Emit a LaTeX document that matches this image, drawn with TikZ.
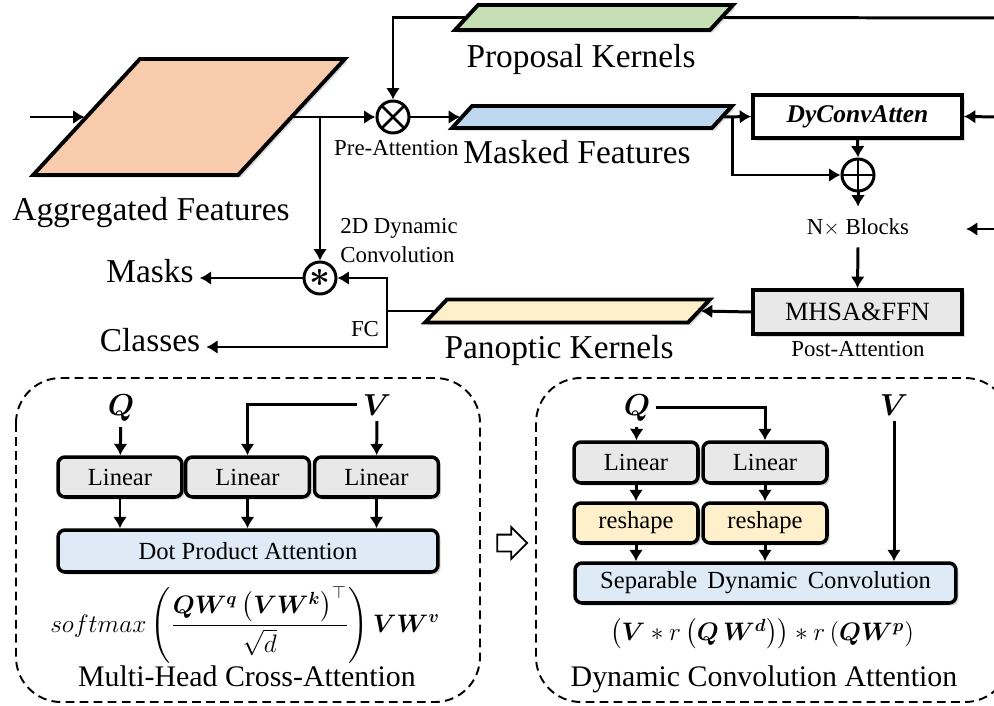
\documentclass[tikz,border=0pt]{standalone}
\usepackage{fontspec}
\setmainfont{Liberation Serif}
\usepackage{amsmath}
\usepackage{bm}
\usepackage{tikz}
\usetikzlibrary{arrows.meta,shapes,shapes.arrows,shadows}
\usetikzlibrary{positioning}

\definecolor{aggorange}{HTML}{F8CBAD}
\definecolor{propgreen}{HTML}{C5E0B4}
\definecolor{maskblue}{HTML}{BDD7EE}
\definecolor{panyellow}{HTML}{FFF0CC}
\definecolor{lingray}{HTML}{E8E8E8}
\definecolor{attblue}{HTML}{DEEBF7}

\tikzstyle{shd}=[drop shadow={shadow xshift=1.5pt,shadow yshift=-1.5pt,opacity=0.3}]
\tikzstyle{line}=[draw, line width=1.7pt, -{Latex[length=6.5pt,width=8pt]}]
\tikzstyle{plain}=[draw, line width=1.7pt]
\tikzstyle{feat}=[draw, line width=2.2pt, rectangle, inner sep=0pt, transform shape, shd]
\tikzstyle{opnode}=[circle, draw, line width=1.7pt, fill=white, minimum size=0.64cm, inner sep=0pt]
\tikzstyle{topbox}=[draw, line width=2.2pt, rectangle, fill=white, minimum width=4.18cm, shd]
\tikzstyle{blk}=[draw, line width=2pt, rounded corners=4pt, minimum height=0.8cm,
                 font=\fontsize{14}{17}\selectfont, shd]
\tikzstyle{dashbox}=[draw, line width=1.1pt, dash pattern=on 5pt off 3pt, rounded corners=0.9cm]
\tikzstyle{big}=[font=\fontsize{19}{22}\selectfont]
\tikzstyle{capt}=[font=\fontsize{17}{20}\selectfont]
\tikzstyle{small}=[font=\fontsize{13}{16.5}\selectfont]
\tikzstyle{fml}=[font=\fontsize{14.5}{17}\selectfont, inner sep=0pt]

\begin{document}
\begin{tikzpicture}[x=0.02cm,y=-0.02cm]
\clip (0,0) rectangle (994,706);

% feature maps
\node[feat, fill=aggorange, minimum width=4.1cm, minimum height=2.32cm, xslant=0.92] (agg) at (189,117) {};
\node[feat, fill=propgreen, minimum width=5.1cm, minimum height=0.5cm, xslant=0.92] (prop) at (594,17.5) {};
\node[feat, fill=maskblue, minimum width=5.2cm, minimum height=0.44cm, xslant=0.91] (mask) at (592,117) {};
\node[feat, fill=panyellow, minimum width=5.26cm, minimum height=0.46cm, xslant=0.95] (pan) at (567.5,311) {};

\node[big, anchor=base] (aggtxt) at (151,220) {Aggregated Features};
\node[big, anchor=base] (proptxt) at (581,68) {Proposal Kernels};
\node[big, anchor=base] (masktxt) at (577,163) {Masked Features};
\node[big, anchor=base] (pantxt) at (559,358) {Panoptic Kernels};

% operators
\node[opnode, path picture={\draw[line width=1.5pt]
  (path picture bounding box.north west) -- (path picture bounding box.south east)
  (path picture bounding box.north east) -- (path picture bounding box.south west);}] (otimes) at (393,117) {};
\node[opnode, path picture={\draw[line width=1.5pt]
  (path picture bounding box.north) -- (path picture bounding box.south)
  (path picture bounding box.west) -- (path picture bounding box.east);}] (oplus) at (858,175) {};
\node[opnode, font=\fontsize{22}{22}\selectfont] (oast) at (320,278) {$\bm{\ast}$};

\node[topbox, minimum height=0.86cm, font=\fontsize{14.5}{17}\selectfont] (dyconv) at (857.5,116.5) {\textbf{\textit{DyConvAtten}}};
\node[topbox, fill=lingray, minimum height=0.88cm, font=\fontsize{15}{18}\selectfont] (mhsa) at (857.5,312) {MHSA\&FFN};
\node[small, inner sep=0pt, minimum height=0.8cm] (blocks) at (858,227) {N$\times$ Blocks};

\node[small, anchor=base west] (pre) at (328,155) {Pre-Attention};
\node[small, anchor=north west, align=left, inner sep=0pt] (dyn) at (340,218) {2D Dynamic\\Convolution};
\node[small, anchor=base] (fc) at (365,336) {FC};
\node[small, anchor=base] (post) at (858,356) {Post-Attention};
\node[big, anchor=mid] (masks) at (150,278) {Masks};
\node[big, anchor=mid] (classes) at (150,347) {Classes};

\coordinate (in) at (30,117);
\coordinate (split) at (320,117);
\coordinate (kin) at (1000,18);
\coordinate (skip) at (732,117);
\coordinate (qin) at (1000,117);
\coordinate (bin) at (1000,229);
\coordinate (bend) at (966,229);
\coordinate (fcj) at (387,311);

\draw[line] (in) -- (agg.west);
\draw[line] (agg.east) -- (otimes.west);
\draw[line] (split) -- (oast.north);
\draw[plain] (kin) -- (prop.east);
\draw[line] (prop.west) -| (otimes.north);
\draw[line] (otimes.east) -- (mask.west);
\draw[line] (mask.east) -- (dyconv.west);
\draw[line] (skip) |- (oplus.west);
\draw[line] (qin) -- (dyconv.east);
\draw[line] (dyconv.south) -- (oplus.north);
\draw[line] (oplus.south) -- (blocks.north);
\draw[line] (bin) -- (bend);
\draw[line] (blocks.south) -- (mhsa.north);
\draw[line] (mhsa.west) -- (pan.east);
\draw[plain] (pan.west) -- (fcj);
\draw[line] (fcj) |- (oast.east);
\draw[line] (fcj) |- (classes.mid east);
\draw[line] (oast.west) -- (masks.mid east);

% multi-head cross-attention
\draw[dashbox] (16,378) rectangle (480,702);
\node[capt, anchor=base] (q1) at (121,415) {$\bm{Q}$};
\node[capt, anchor=base] (v1) at (377,415) {$\bm{V}$};
\node[blk, fill=lingray, minimum width=2.48cm] (lin1) at (120,477) {Linear};
\node[blk, fill=lingray, minimum width=2.48cm] (lin2) at (247.5,477) {Linear};
\node[blk, fill=lingray, minimum width=2.48cm] (lin3) at (376.5,477) {Linear};
\node[blk, fill=attblue, minimum width=7.6cm, minimum height=0.84cm] (dpa) at (248,551) {Dot Product Attention};
\node[fml] (f1) at (245,625)
  {$softmax\left(\dfrac{\bm{QW^{q}}\left(\bm{VW^{k}}\right)^{\top}}{\sqrt{d}}\right)\bm{VW^{v}}$};
\node[capt, anchor=base] (mhca) at (247,686) {Multi-Head Cross-Attention};

\draw[line] (q1) -- (lin1);
\draw[line] (v1) -- (lin3);
\draw[line] (v1.west) -| (lin2.north);
\foreach \n in {lin1,lin2,lin3}
  \draw[line] (\n.south) -- (\n.south |- dpa.north);

\node[single arrow, draw, line width=1pt, minimum height=0.6cm, single arrow head extend=0.15cm,
      inner sep=0.15cm] (goes) at (508,543) {};

% dynamic convolution attention
\draw[dashbox] (536,378) rectangle (1010,702);
\node[capt, anchor=base] (q2) at (637,415) {$\bm{Q}$};
\node[capt, anchor=base] (v2) at (894,415) {$\bm{V}$};
\node[blk, fill=lingray, minimum width=2.48cm, minimum height=0.82cm] (lin4) at (636,462.5) {Linear};
\node[blk, fill=lingray, minimum width=2.48cm, minimum height=0.82cm] (lin5) at (765,462.5) {Linear};
\node[blk, fill=panyellow, minimum width=2.48cm] (res1) at (636,523) {reshape};
\node[blk, fill=panyellow, minimum width=2.48cm] (res2) at (765,523) {reshape};
\node[blk, fill=attblue, minimum width=7.62cm] (sdc) at (765.5,583) {Separable\, Dynamic\, Convolution};
\node[fml] (f2) at (762,634)
  {$\left(\bm{V} * r\left(\bm{Q\,W^{d}}\right)\right) * r\left(\bm{QW^{p}}\right)$};
\node[capt, anchor=base] (dca) at (764,686) {Dynamic Convolution Attention};

\draw[line] (q2) -- (lin4);
\draw[line] (q2.east) -| (lin5.north);
\draw[line] (lin4) -- (res1);
\draw[line] (lin5) -- (res2);
\draw[line] (res1.south) -- (res1.south |- sdc.north);
\draw[line] (res2.south) -- (res2.south |- sdc.north);
\draw[line] (v2) -- (v2 |- sdc.north);
\end{tikzpicture}
\end{document}
